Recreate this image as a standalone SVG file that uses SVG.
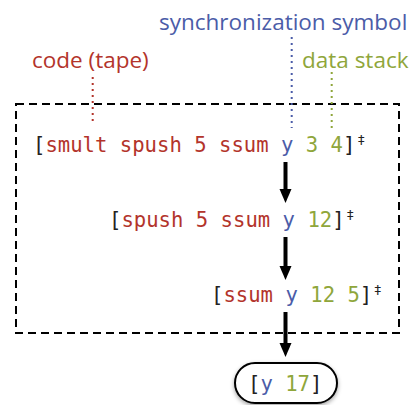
<svg xmlns="http://www.w3.org/2000/svg" width="409" height="405" viewBox="0 0 409 405">
  <defs>
    <style>
      .lbl { font-family: "Open Sans", "Liberation Sans", sans-serif; font-size: 22.5px; }
      .mono { font-family: "DejaVu Sans Mono", "Liberation Mono", monospace; font-size: 20.6px; fill: #222; }
      .sup { font-family: "DejaVu Sans", sans-serif; font-size: 13px; fill: #222; }
      .r { fill: #b3342b; }
      .b { fill: #4b5ca8; }
      .g { fill: #8fa63b; }
      .lead { stroke-width: 2; stroke-dasharray: 2 4; fill: none; }
      .shaft { stroke: #000; stroke-width: 4; fill: none; }
      .head { fill: #000; }
    </style>
    <filter id="shadow" x="-20%" y="-30%" width="140%" height="170%">
      <feDropShadow dx="0" dy="2" stdDeviation="2" flood-color="#000" flood-opacity="0.35"/>
    </filter>
  </defs>

  <g id="frame">
    <rect x="16" y="104" width="383" height="229" fill="none" stroke="#000" stroke-width="2" stroke-dasharray="8 5"/>
  </g>

  <g id="label-sync">
    <text class="lbl b" x="159" y="30">synchronization symbol</text>
  </g>
  <g id="label-code">
    <text class="lbl r" x="32" y="68">code (tape)</text>
  </g>
  <g id="label-data">
    <text class="lbl g" x="302" y="68">data stack</text>
  </g>

  <g id="state1">
    <text class="mono" x="33" y="152">[<tspan class="r">smult spush 5 ssum</tspan> <tspan class="b">y</tspan> <tspan class="g">3 4</tspan>]</text>
    <text class="sup" x="358" y="143.5">‡</text>
  </g>
  <g id="state2">
    <text class="mono" x="109" y="227">[<tspan class="r">spush 5 ssum</tspan> <tspan class="b">y</tspan> <tspan class="g">12</tspan>]</text>
    <text class="sup" x="347" y="218.5">‡</text>
  </g>
  <g id="state3">
    <text class="mono" x="211" y="302">[<tspan class="r">ssum</tspan> <tspan class="b">y</tspan> <tspan class="g">12 5</tspan>]</text>
    <text class="sup" x="374.5" y="293.5">‡</text>
  </g>
  <g id="result">
    <rect x="235" y="363" width="102" height="40" rx="20" ry="20" fill="#fff" stroke="#000" stroke-width="2" filter="url(#shadow)"/>
    <text class="mono" x="248" y="391">[<tspan class="b">y</tspan> <tspan class="g">17</tspan>]</text>
  </g>

  <g id="connectors">
    <line class="lead" x1="92.7" y1="77" x2="92.7" y2="122" stroke="#b3342b"/>
    <line class="lead" x1="291.7" y1="37" x2="291.7" y2="128" stroke="#4b5ca8"/>
    <line class="lead" x1="331.7" y1="72" x2="331.7" y2="128" stroke="#8fa63b"/>
    <line class="shaft" x1="285.5" y1="162" x2="285.5" y2="190"/>
    <path class="head" d="M279.5,189 L291.5,189 L285.5,203 Z"/>
    <line class="shaft" x1="285.5" y1="237" x2="285.5" y2="267"/>
    <path class="head" d="M279.5,266 L291.5,266 L285.5,280 Z"/>
    <line class="shaft" x1="285.5" y1="312" x2="285.5" y2="344"/>
    <path class="head" d="M279.5,343 L291.5,343 L285.5,357 Z"/>
  </g>
</svg>
